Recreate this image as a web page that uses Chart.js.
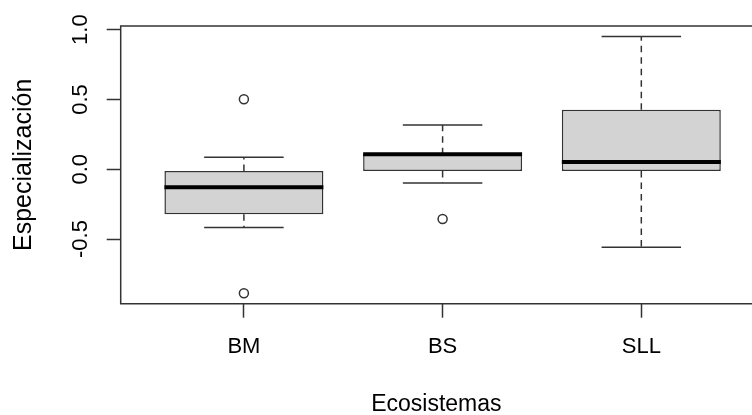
<!DOCTYPE html>
<html>
<head>
<meta charset="utf-8">
<script src="https://cdn.jsdelivr.net/npm/chart.js@4/dist/chart.umd.min.js"></script>
<style>
    body { margin: 0; background: #fff; }
    canvas { display: block; }
</style>
</head>
<body>
<canvas id="boxChart" width="752" height="415"></canvas>
<script>
const categories = ["BM", "BS", "SLL"];
const lowerWhisker = [-0.418, -0.098, -0.559];
const firstQuartile = [-0.322, -0.012, -0.012];
const medians = [-0.129, 0.107, 0.052];
const thirdQuartile = [-0.012, 0.107, 0.427];
const upperWhisker = [0.086, 0.317, 0.950];
const outliers = [[0.501, -0.888], [-0.356], []];
const yTicks = [-0.5, 0, 0.5, 1];

const LINE = "#333";
const FONT = "'Liberation Sans', Arial, sans-serif";

// segments joined by a null point so the line breaks between them
function segments(list) {
    const out = [];
    list.forEach(s => {
        out.push({ x: s[0], y: s[1] }, { x: s[2], y: s[3] }, { x: s[2], y: null });
    });
    return out;
}

const boxData = categories.map((c, i) => ({ x: i + 1, y: [firstQuartile[i], thirdQuartile[i]] }));

const medianData = segments(categories.map((c, i) =>
    [i + 0.6, medians[i], i + 1.4, medians[i]]));

const whiskerData = segments(categories.flatMap((c, i) => [
    [i + 1, thirdQuartile[i], i + 1, upperWhisker[i]],
    [i + 1, firstQuartile[i], i + 1, lowerWhisker[i]]
]));

const capData = segments(categories.flatMap((c, i) => [
    [i + 0.8, upperWhisker[i], i + 1.2, upperWhisker[i]],
    [i + 0.8, lowerWhisker[i], i + 1.2, lowerWhisker[i]]
]));

const outlierData = outliers.flatMap((vals, i) => vals.map(v => ({ x: i + 1, y: v })));

// plot frame (right side falls outside the picture) + rotated y tick labels
const rStyle = {
    id: "rStyle",
    afterDatasetsDraw(chart) {
        const a = chart.chartArea;
        const ctx = chart.ctx;
        ctx.save();
        ctx.strokeStyle = LINE;
        ctx.lineWidth = 1.5;
        ctx.beginPath();
        ctx.moveTo(a.right + 5, a.top);
        ctx.lineTo(a.left, a.top);
        ctx.lineTo(a.left, a.bottom);
        ctx.lineTo(a.right + 5, a.bottom);
        ctx.stroke();
        ctx.restore();
    },
    afterDraw(chart) {
        const y = chart.scales.y;
        const ctx = chart.ctx;
        ctx.save();
        ctx.fillStyle = "#000";
        ctx.font = "22px " + FONT;
        ctx.textAlign = "center";
        ctx.textBaseline = "alphabetic";
        yTicks.forEach(v => {
            ctx.save();
            ctx.translate(87, y.getPixelForValue(v));
            ctx.rotate(-Math.PI / 2);
            ctx.fillText(v.toFixed(1), 0, 0);
            ctx.restore();
        });
        ctx.restore();
    }
};

new Chart(document.getElementById("boxChart"), {
    type: "scatter",
    data: {
        datasets: [
            {
                type: "scatter",
                data: outlierData,
                pointRadius: 4.5,
                pointHoverRadius: 4.5,
                borderWidth: 1.5,
                borderColor: LINE,
                backgroundColor: "rgba(0,0,0,0)",
                order: 0
            },
            {
                type: "line",
                data: medianData,
                borderColor: "#000",
                borderWidth: 4,
                borderCapStyle: "butt",
                pointRadius: 0,
                spanGaps: false,
                order: 1
            },
            {
                type: "line",
                data: capData,
                borderColor: LINE,
                borderWidth: 1.5,
                pointRadius: 0,
                spanGaps: false,
                order: 2
            },
            {
                type: "line",
                data: whiskerData,
                borderColor: LINE,
                borderWidth: 1.5,
                borderDash: [6.5, 5],
                pointRadius: 0,
                spanGaps: false,
                order: 3
            },
            {
                type: "bar",
                data: boxData,
                backgroundColor: "#d3d3d3",
                borderColor: LINE,
                borderWidth: 1.5,
                borderSkipped: false,
                categoryPercentage: 0.8,
                barPercentage: 1,
                order: 4
            }
        ]
    },
    options: {
        responsive: false,
        animation: false,
        events: [],
        layout: {
            autoPadding: false,
            padding: { left: 0, top: 26, right: 0, bottom: 0 }
        },
        plugins: {
            legend: { display: false },
            tooltip: { enabled: false }
        },
        scales: {
            x: {
                type: "linear",
                min: 0.38,
                max: 3.557,
                offset: false,
                afterBuildTicks: scale => {
                    scale.ticks = categories.map((c, i) => ({ value: i + 1 }));
                },
                afterFit: scale => {
                    scale.height = 111.3;
                    scale.paddingLeft = 0;
                    scale.paddingRight = 0;
                },
                ticks: {
                    callback: v => categories[v - 1],
                    color: "#000",
                    font: { family: FONT, size: 22 },
                    padding: 16,
                    maxRotation: 0
                },
                grid: {
                    offset: false,
                    drawOnChartArea: false,
                    tickLength: 14,
                    tickColor: LINE,
                    tickWidth: 1.5
                },
                border: { display: false },
                title: {
                    display: true,
                    text: "Ecosistemas",
                    color: "#000",
                    font: { family: FONT, size: 23, lineHeight: 0.9 },
                    padding: 0
                }
            },
            y: {
                min: -0.963,
                max: 1.026,
                afterBuildTicks: scale => {
                    scale.ticks = yTicks.map(v => ({ value: v }));
                },
                afterFit: scale => { scale.width = 120.7; },
                ticks: { display: false },
                grid: {
                    drawOnChartArea: false,
                    tickLength: 14,
                    tickColor: LINE,
                    tickWidth: 1.5
                },
                border: { display: false },
                title: {
                    display: true,
                    text: "Especialización",
                    color: "#000",
                    font: { family: FONT, size: 25 },
                    padding: { top: 9, bottom: 0 }
                }
            }
        }
    },
    plugins: [rStyle]
});
</script>
</body>
</html>
